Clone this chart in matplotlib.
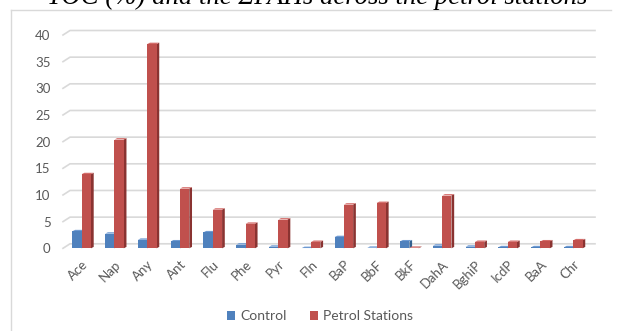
import matplotlib
matplotlib.use("Agg")
import matplotlib.pyplot as plt
from matplotlib.patches import Polygon, Patch
from matplotlib.lines import Line2D

categories = ["Ace", "Nap", "Any", "Ant", "Flu", "Phe", "Pyr", "Fln", "BaP", "BbF",
              "BkF", "DahA", "BghiP", "IcdP", "BaA", "Chr"]
control = [3.2, 2.75, 1.6, 1.3, 3.0, 0.7, 0.3, 0.05, 2.1, 0.1, 1.3, 0.5, 0.3, 0.2, 0.2, 0.2]
petrol = [13.9, 20.4, 38.3, 11.2, 7.25, 4.6, 5.4, 1.2, 8.2, 8.5, 0.1, 9.9, 1.2, 1.2, 1.3, 1.5]
yticks = [0, 5, 10, 15, 20, 25, 30, 35, 40]
series_names = ["Control", "Petrol Stations"]
title = "TOC (%) and the \u03a3PAHs across the petrol stations"

W, H = 622, 331
fig = plt.figure(figsize=(W / 100, H / 100), dpi=100)

def fx(px):
    return px / W

def fy(py):
    return 1 - py / H

# axes (front plane)
ax_l, ax_r, ax_t, ax_b = 63, 588, 35, 248.3
ax = fig.add_axes([fx(ax_l), fy(ax_b), fx(ax_r - ax_l), (ax_b - ax_t) / H])
c0, step = 81.7, 32.77
xlo = (ax_l - c0) / step
xhi = (ax_r - c0) / step
ax.set_xlim(xlo, xhi)
ax.set_ylim(0, 40)
for s in ax.spines.values():
    s.set_visible(False)

pxx = step                   # px per x unit
pxy = (ax_b - ax_t) / 40.0   # px per y unit

grid_c = "#D9D9D9"
# back wall gridlines with slanted side-wall segment
wall_dx, wall_dy = 7 / pxx, 4.5 / pxy
for v in yticks:
    ax.add_line(Line2D([xlo, xlo + wall_dx, xhi + wall_dx], [v, v + wall_dy, v + wall_dy],
                       color=grid_c, lw=1.2, clip_on=False, zorder=1))

# 3D-ish bars
bw = 9.3 / pxx
ddx, ddy = 2.7 / pxx, 1.4 / pxy
cols = {
    0: ("#4F81BD", "#34608F", "#6E9AD2"),
    1: ("#C0504D", "#8A3331", "#D46D6A"),
}
for si, vals in enumerate([control, petrol]):
    front, side, top = cols[si]
    for i, v in enumerate(vals):
        xl = i - bw if si == 0 else i
        xr = xl + bw
        z = 3 + si + i * 0.01
        ax.add_patch(Polygon([(xr, 0), (xr, v), (xr + ddx, v + ddy), (xr + ddx, ddy)],
                             closed=True, facecolor=side, edgecolor="none", zorder=z, clip_on=False))
        ax.add_patch(Polygon([(xl, v), (xr, v), (xr + ddx, v + ddy), (xl + ddx, v + ddy)],
                             closed=True, facecolor=top, edgecolor="none", zorder=z, clip_on=False))
        ax.bar(xl, v, width=bw, align="edge", color=front, edgecolor="none", zorder=z + 0.001)

tick_c = "#595959"
ax.set_yticks(yticks)
ax.set_yticklabels([str(t) for t in yticks])
ax.set_xticks(range(len(categories)))
ax.set_xticklabels(categories, rotation=45, ha="right", va="top", rotation_mode="anchor")
ax.tick_params(axis="y", length=0, pad=9.0, labelsize=9.5, labelcolor=tick_c)
ax.tick_params(axis="x", length=0, pad=7.0, labelsize=9.5, labelcolor=tick_c)
for lab in ax.get_xticklabels() + ax.get_yticklabels():
    lab.set_fontfamily("Lato")

# legend
handles = [Patch(facecolor=cols[0][0], edgecolor="none"),
           Patch(facecolor=cols[1][0], edgecolor="none")]
leg = fig.legend(handles, series_names, loc="center", bbox_to_anchor=(fx(320), fy(316)),
                 ncol=2, frameon=False, handlelength=0.6, handleheight=0.6,
                 handletextpad=0.35, columnspacing=1.7,
                 prop={"family": "Lato", "size": 10})
for t in leg.get_texts():
    t.set_color(tick_c)

# chart frame (top and left visible)
fig.add_artist(Line2D([fx(11), fx(611)], [fy(10), fy(10)], color=grid_c, lw=1.0))
fig.add_artist(Line2D([fx(11), fx(11)], [fy(10), fy(335)], color=grid_c, lw=1.0))

# clipped title
tt = fig.text(fx(47), fy(4), title, ha="left", va="baseline",
              fontfamily="Liberation Serif", fontstyle="italic", fontsize=20, color="black")
fig.canvas.draw()
w = tt.get_window_extent().width
tt.set_fontsize(20 * 541 / w)

fig.savefig("out.png", dpi=100)
